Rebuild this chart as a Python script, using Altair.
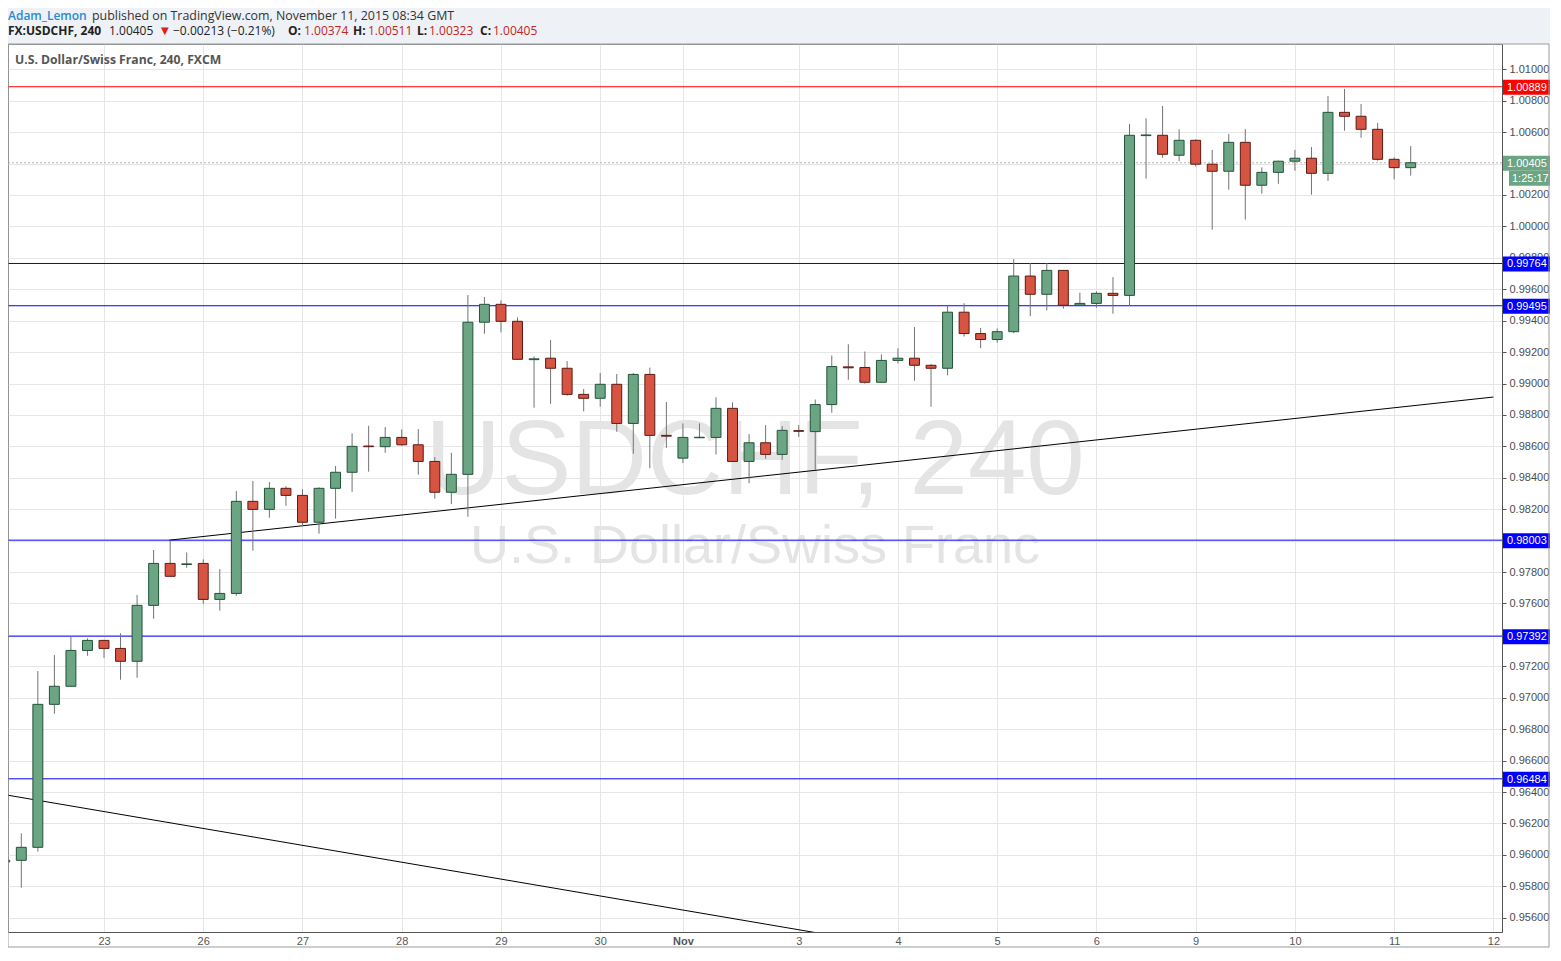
import altair as alt
import pandas as pd

# ---------------- data ----------------
opens = [0.95955, 0.95965, 0.96048, 0.96958, 0.97073, 0.97301, 0.97365, 0.97314, 0.97232, 0.97588,
         0.97855, 0.97848, 0.97855, 0.97626, 0.97664, 0.98250, 0.98199, 0.98333, 0.98288, 0.98117,
         0.98333, 0.98435, 0.98602, 0.98598, 0.98657, 0.98610, 0.98504, 0.98308, 0.98422, 0.99390,
         0.99504, 0.99396, 0.99152, 0.99161, 0.99097, 0.98931, 0.98906, 0.98995, 0.98746, 0.99058,
         0.98670, 0.98525, 0.98655, 0.98657, 0.98842, 0.98504, 0.98623, 0.98549, 0.98700, 0.98694,
         0.98866, 0.99106, 0.99102, 0.99008, 0.99147, 0.99161, 0.99116, 0.99097, 0.99454, 0.99318,
         0.99280, 0.99330, 0.99684, 0.99568, 0.99720, 0.99498, 0.99510, 0.99574, 0.99561, 1.00578,
         1.00580, 1.00453, 1.00548, 1.00396, 1.00351, 1.00535, 1.00262, 1.00344, 1.00415, 1.00434,
         1.00338, 1.00726, 1.00701, 1.00618, 1.00427, 1.00374]
highs = [0.95970, 0.96137, 0.97170, 0.97272, 0.97388, 0.97378, 0.97368, 0.97411, 0.97654, 0.97940,
         0.98008, 0.97925, 0.97881, 0.97819, 0.98316, 0.98380, 0.98373, 0.98347, 0.98327, 0.98340,
         0.98475, 0.98683, 0.98731, 0.98723, 0.98708, 0.98710, 0.98532, 0.98559, 0.99563, 0.99551,
         0.99529, 0.99421, 0.99172, 0.99277, 0.99143, 0.98965, 0.99067, 0.99061, 0.99067, 0.99101,
         0.98882, 0.98746, 0.98746, 0.98912, 0.98880, 0.98678, 0.98735, 0.98729, 0.98735, 0.98898,
         0.99178, 0.99250, 0.99204, 0.99185, 0.99224, 0.99360, 0.99123, 0.99500, 0.99511, 0.99354,
         0.99350, 0.99792, 0.99767, 0.99767, 0.99722, 0.99578, 0.99587, 0.99677, 1.00652, 1.00688,
         1.00766, 1.00618, 1.00554, 1.00487, 1.00588, 1.00620, 1.00376, 1.00418, 1.00487, 1.00505,
         1.00830, 1.00875, 1.00779, 1.00658, 1.00440, 1.00511]
lows = [0.95950, 0.95791, 0.96020, 0.96898, 0.97070, 0.97267, 0.97254, 0.97115, 0.97127, 0.97503,
        0.97770, 0.97827, 0.97598, 0.97554, 0.97649, 0.97936, 0.98146, 0.98222, 0.98093, 0.98044,
        0.98140, 0.98311, 0.98439, 0.98559, 0.98604, 0.98420, 0.98267, 0.98233, 0.98152, 0.99317,
        0.99326, 0.99150, 0.98846, 0.98871, 0.98922, 0.98823, 0.98852, 0.98693, 0.98553, 0.98461,
        0.98591, 0.98494, 0.98652, 0.98549, 0.98500, 0.98365, 0.98521, 0.98514, 0.98660, 0.98450,
        0.98814, 0.99024, 0.98999, 0.99005, 0.99128, 0.99018, 0.98852, 0.99052, 0.99299, 0.99225,
        0.99260, 0.99320, 0.99428, 0.99466, 0.99476, 0.99495, 0.99482, 0.99444, 0.99494, 1.00304,
        1.00437, 1.00415, 1.00382, 0.99979, 1.00234, 1.00043, 1.00208, 1.00271, 1.00354, 1.00202,
        1.00290, 1.00609, 1.00564, 1.00418, 1.00300, 1.00323]
closes = [0.95965, 0.96048, 0.96958, 0.97073, 0.97301, 0.97365, 0.97314, 0.97232, 0.97588, 0.97855,
          0.97773, 0.97852, 0.97626, 0.97664, 0.98250, 0.98199, 0.98333, 0.98288, 0.98117, 0.98333,
          0.98435, 0.98600, 0.98598, 0.98657, 0.98610, 0.98504, 0.98308, 0.98422, 0.99390, 0.99504,
          0.99396, 0.99154, 0.99157, 0.99097, 0.98931, 0.98906, 0.98995, 0.98746, 0.99058, 0.98670,
          0.98665, 0.98657, 0.98658, 0.98842, 0.98504, 0.98623, 0.98549, 0.98702, 0.98696, 0.98866,
          0.99108, 0.99100, 0.99008, 0.99147, 0.99161, 0.99116, 0.99097, 0.99454, 0.99318, 0.99280,
          0.99330, 0.99684, 0.99568, 0.99720, 0.99498, 0.99510, 0.99574, 0.99561, 1.00580, 1.00582,
          1.00459, 1.00548, 1.00396, 1.00351, 1.00535, 1.00262, 1.00344, 1.00415, 1.00434, 1.00338,
          1.00726, 1.00701, 1.00618, 1.00427, 1.00374, 1.00405]

tick_idx = [6, 12, 18, 24, 30, 36, 41, 48, 54, 60, 66, 72, 78, 84, 90]
tick_lbl = ["23", "26", "27", "28", "29", "30", "Nov", "3", "4", "5", "6", "9", "10", "11", "12"]

y_ticks = [0.956, 0.958, 0.960, 0.962, 0.964, 0.966, 0.968, 0.970, 0.972, 0.974, 0.976, 0.978,
           0.980, 0.982, 0.984, 0.986, 0.988, 0.990, 0.992, 0.994, 0.996, 0.998, 1.000, 1.002,
           1.004, 1.006, 1.008, 1.010]

levels = [1.00889, 0.99764, 0.99495, 0.98003, 0.97392, 0.96484]
level_colors = ["#ff0000", "#0000ff", "#0000ff", "#0000ff", "#0000ff", "#0000ff"]
current_price = 1.00405
countdown = "1:25:17"

trend_up_idx = [9.95, 90.0]
trend_up_px = [0.98003, 0.98914]
trend_dn_idx = [0.0, 55.0]
trend_dn_px = [0.96383, 0.95398]

header_user = "Adam_Lemon"
header_pub = "published on TradingView.com, November 11, 2015 08:34 GMT"
sym = "FX:USDCHF, 240"
last = "1.00405"
change = "\u22120.00213 (\u22120.21%)"
ohlc_lbl = ["O:", "H:", "L:", "C:"]
ohlc_val = ["1.00374", "1.00511", "1.00323", "1.00405"]
inner_title = "U.S. Dollar/Swiss Franc, 240, FXCM"
wm1 = "USDCHF, 240"
wm2 = "U.S. Dollar/Swiss Franc"

# ---------------- chart ----------------
W, H = 1494, 888
UP_FILL, UP_STROKE = "#6ba583", "#225437"
DN_FILL, DN_STROKE = "#d75442", "#5b1a13"
FONT = "Liberation Sans"
HFONT = "Open Sans"

xs = alt.Scale(domain=[0.196, 90.52], nice=False, zero=False)
ys = alt.Scale(domain=[0.95509, 1.01161], nice=False, zero=False)

label_expr = "".join(f"datum.value == {v} ? '{l}' : " for v, l in zip(tick_idx, tick_lbl)) + "''"
x_axis = alt.Axis(values=tick_idx, labelExpr=label_expr, title=None, grid=True, gridColor="#e6e6e6",
                  domainColor="#555555", ticks=False, labelPadding=3, labelFont=FONT, labelFontSize=11,
                  labelColor="#555555", labelFlush=False, labelOverlap=False,
                  labelFontWeight={"condition": {"test": "datum.value == 41", "value": "bold"}, "value": "normal"})
y_axis = alt.Axis(orient="right", values=y_ticks, format=".5f", title=None, grid=True, gridColor="#e6e6e6",
                  domainColor="#555555", tickColor="#555555", tickSize=4, labelPadding=3, labelFont=FONT,
                  labelFontSize=11, labelColor="#4d4d4d", labelFlush=False, labelOverlap=False)

df = pd.DataFrame({"i": list(range(len(opens))), "o": opens, "h": highs, "l": lows, "c": closes})
df["dir"] = ["up" if c >= o else "down" for o, c in zip(df.o, df.c)]

one = pd.DataFrame({"k": [0]})


def txt(text, x, y, color="#333333", weight="normal", size=12, font=HFONT, align="left", baseline="middle"):
    return alt.Chart(pd.DataFrame({"t": [text]})).mark_text(
        align=align, baseline=baseline, font=font, fontSize=size, fontWeight=weight, color=color
    ).encode(text="t:N", x=alt.value(x), y=alt.value(y))


header_bg = alt.Chart(one).mark_rect(fill="#eef1f5").encode(
    x=alt.value(0), x2=alt.value(W + 48), y=alt.value(-36), y2=alt.value(0))

watermark = (txt(wm1, 747, 450, color="#e4e4e4", size=105, font=FONT, align="center", baseline="alphabetic")
             + txt(wm2, 747, 519, color="#e4e4e4", size=54, font=FONT, align="center", baseline="alphabetic"))

lv_df = pd.DataFrame({"p": levels, "col": level_colors})
level_rules = alt.Chart(lv_df).mark_rule(strokeWidth=1).encode(
    y=alt.Y("p:Q", scale=ys, axis=y_axis), color=alt.Color("col:N", scale=None))

cur_df = pd.DataFrame({"p": [current_price], "t": [f"{current_price:.5f}"], "cd": [countdown]})
cur_rule = alt.Chart(cur_df).mark_rule(strokeDash=[2, 2], color="#b5b5b5", strokeWidth=1).encode(
    y=alt.Y("p:Q", scale=ys, axis=y_axis))

tr_df = pd.DataFrame({"i": trend_up_idx + trend_dn_idx, "p": trend_up_px + trend_dn_px,
                      "g": ["a", "a", "b", "b"]})
trends = alt.Chart(tr_df).mark_line(color="black", strokeWidth=1, clip=True).encode(
    x=alt.X("i:Q", scale=xs, axis=x_axis), y=alt.Y("p:Q", scale=ys, axis=y_axis), detail="g:N")

wicks = alt.Chart(df).mark_rule(color="#737375", strokeWidth=1, clip=True).encode(
    x=alt.X("i:Q", scale=xs, axis=x_axis), y=alt.Y("l:Q", scale=ys, axis=y_axis), y2="h:Q")

bodies = alt.Chart(df).transform_calculate(
    x0="datum.i - 0.3", x1="datum.i + 0.3",
    top="max(datum.o, datum.c)", bot="min(datum.o, datum.c)"
).mark_rect(strokeWidth=1, clip=True).encode(
    x=alt.X("x0:Q", scale=xs, axis=x_axis), x2="x1:Q",
    y=alt.Y("bot:Q", scale=ys, axis=y_axis), y2="top:Q",
    fill=alt.Fill("dir:N", scale=alt.Scale(domain=["up", "down"], range=[UP_FILL, DN_FILL]), legend=None),
    stroke=alt.Stroke("dir:N", scale=alt.Scale(domain=["up", "down"], range=[UP_STROKE, DN_STROKE]), legend=None),
)

lab_df = pd.DataFrame({"p": levels + [current_price], "col": level_colors + [UP_FILL],
                       "t": [f"{v:.5f}" for v in levels] + [f"{current_price:.5f}"]})
lab_box = alt.Chart(lab_df).mark_rect(yOffset=-7, y2Offset=8).encode(
    x=alt.value(W + 1), x2=alt.value(W + 48), y=alt.Y("p:Q", scale=ys, axis=y_axis), y2="p:Q",
    fill=alt.Fill("col:N", scale=None))
lab_txt = alt.Chart(lab_df).mark_text(align="left", baseline="middle", font=FONT, fontSize=11,
                                      color="white", dy=1).encode(
    x=alt.value(W + 5), y=alt.Y("p:Q", scale=ys, axis=y_axis), text="t:N")
cd_box = alt.Chart(cur_df).mark_rect(yOffset=8, y2Offset=23, fill=UP_FILL).encode(
    x=alt.value(W + 7), x2=alt.value(W + 48), y=alt.Y("p:Q", scale=ys, axis=y_axis), y2="p:Q")
cd_txt = alt.Chart(cur_df).mark_text(align="left", baseline="middle", font=FONT, fontSize=11,
                                     color="white", dy=16).encode(
    x=alt.value(W + 10), y=alt.Y("p:Q", scale=ys, axis=y_axis), text="cd:N")

RED = "#c0281f"
R1, R2 = -28, -13
hdr = (txt(header_user, 0, R1, color="#2a8ad4", weight=600, size=12)
       + txt(header_pub, 84, R1, color="#333333", size=12.4)
       + txt(sym, 0, R2, color="#222222", weight="bold", size=12)
       + txt(last, 101, R2, color="#222222", size=12)
       + txt("\u25bc", 153, R2, color="#d9251c", size=10, font="DejaVu Sans")
       + txt(change, 165, R2, color="#222222", size=12)
       + txt(ohlc_lbl[0], 280, R2, color="#222222", weight="bold", size=12)
       + txt(ohlc_val[0], 296, R2, color=RED, size=12)
       + txt(ohlc_lbl[1], 345, R2, color="#222222", weight="bold", size=12)
       + txt(ohlc_val[1], 360, R2, color=RED, size=12)
       + txt(ohlc_lbl[2], 409, R2, color="#222222", weight="bold", size=12)
       + txt(ohlc_val[2], 421, R2, color=RED, size=12)
       + txt(ohlc_lbl[3], 472, R2, color="#222222", weight="bold", size=12)
       + txt(ohlc_val[3], 485, R2, color=RED, size=12)
       + txt(inner_title, 7, 16, color="#555555", weight="bold", size=12.2))

frame = alt.Chart(one).mark_rect(fillOpacity=0, stroke="#9b9b9b", strokeWidth=1).encode(
    x=alt.value(0), x2=alt.value(W + 47), y=alt.value(0), y2=alt.value(H + 15))

chart = alt.layer(
    header_bg, watermark, level_rules, cur_rule, trends, wicks, bodies,
    lab_box, lab_txt, cd_box, cd_txt, hdr, frame
).properties(
    width=W, height=H,
    padding={"left": 0, "top": 36, "right": 48, "bottom": 16},
    autosize=alt.AutoSizeParams(type="none"),
    background="white",
).configure_view(fill="white", stroke="#8c8c8c")

chart.save("out.html", embed_options={"renderer": "svg", "actions": False})
